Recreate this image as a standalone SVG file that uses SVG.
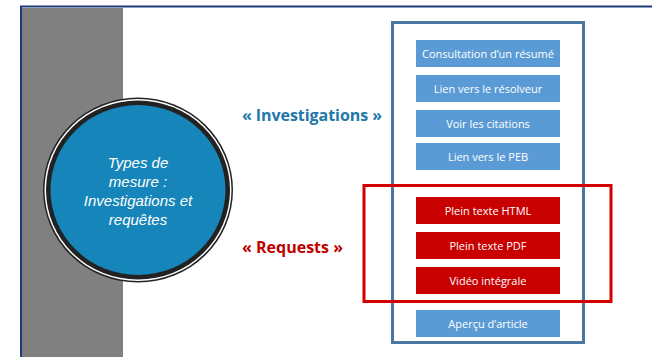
<svg xmlns="http://www.w3.org/2000/svg" width="652" height="357" viewBox="0 0 652 357">
<style>
.btn-b{fill:#5b9bd5;}
.btn-r{fill:#c90000;}
.bt{font-family:"Open Sans","Liberation Sans",sans-serif;font-size:11px;fill:#ffffff;text-anchor:middle;}
.ct{font-family:"Liberation Sans",Arial,sans-serif;font-size:15px;font-style:italic;fill:#ffffff;text-anchor:middle;}
.lbl{font-family:"Open Sans","Liberation Sans",sans-serif;font-size:16px;font-weight:bold;}
</style>
<rect x="0" y="0" width="652" height="357" fill="#ffffff"/>
<g id="frame">
<rect x="22" y="8" width="101" height="349" fill="#808080"/>
<line x1="20" y1="6.5" x2="652" y2="6.5" stroke="#1f3a7a" stroke-width="2"/>
<line x1="21" y1="6" x2="21" y2="357" stroke="#1f3a7a" stroke-width="2"/>
</g>
<g id="circle">
<ellipse cx="138" cy="190" rx="95" ry="92.5" fill="#222222"/>
<ellipse cx="138" cy="190" rx="93.5" ry="91" fill="#ffffff"/>
<ellipse cx="138" cy="190" rx="92" ry="89.5" fill="#222222"/>
<ellipse cx="138" cy="190" rx="87.5" ry="85" fill="#1685b9"/>
<text class="ct" x="138" y="168">Types de</text>
<text class="ct" x="138" y="187">mesure :</text>
<text class="ct" x="138" y="206">Investigations et</text>
<text class="ct" x="138" y="225">requêtes</text>
</g>
<g id="label-investigations">
<text class="lbl" x="242" y="121" fill="#2278a8" textLength="140">« Investigations »</text>
</g>
<g id="label-requests">
<text class="lbl" x="242" y="253" fill="#c00000" textLength="101">« Requests »</text>
</g>
<g id="connectors">
<rect x="392.5" y="22.5" width="191" height="320" fill="none" stroke="#4a76a2" stroke-width="3"/>
<rect x="364" y="185.5" width="247" height="116" fill="none" stroke="#d40000" stroke-width="3"/>
</g>
<g id="btn1"><rect class="btn-b" x="416" y="40" width="144" height="27"/><text class="bt" x="488" y="57.5">Consultation d’un résumé</text></g>
<g id="btn2"><rect class="btn-b" x="416" y="75" width="144" height="27"/><text class="bt" x="488" y="92.5">Lien vers le résolveur</text></g>
<g id="btn3"><rect class="btn-b" x="416" y="110" width="144" height="27"/><text class="bt" x="488" y="127.5">Voir les citations</text></g>
<g id="btn4"><rect class="btn-b" x="416" y="143" width="144" height="27"/><text class="bt" x="488" y="160.5">Lien vers le PEB</text></g>
<g id="btn5"><rect class="btn-r" x="416" y="197" width="144" height="27"/><text class="bt" x="488" y="214.5">Plein texte HTML</text></g>
<g id="btn6"><rect class="btn-r" x="416" y="232" width="144" height="27"/><text class="bt" x="488" y="249.5">Plein texte PDF</text></g>
<g id="btn7"><rect class="btn-r" x="416" y="267" width="144" height="27"/><text class="bt" x="488" y="284.5">Vidéo intégrale</text></g>
<g id="btn8"><rect class="btn-b" x="416" y="310" width="144" height="27"/><text class="bt" x="488" y="327.5">Aperçu d’article</text></g>
</svg>
